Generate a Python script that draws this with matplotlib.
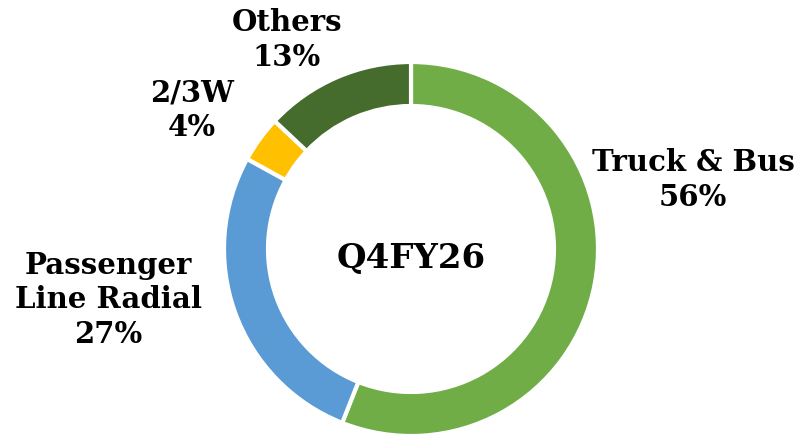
import matplotlib
matplotlib.use("Agg")
import matplotlib.pyplot as plt

categories = ["Truck & Bus", "Passenger\nLine Radial", "2/3W", "Others"]
shares = [56, 27, 4, 13]
colors = ["#70AD47", "#5B9BD5", "#FFC000", "#456B2D"]
center_label = "Q4FY26"

# label positions in pixel coordinates (x, y from top)
label_pos = [(693, 180), (108, 300), (192, 110), (287, 40)]

W, H = 805, 435
fig = plt.figure(figsize=(W / 100, H / 100), dpi=100)
ax = fig.add_axes([0, 0, 1, 1])

cx, cy, R = 411, H - 250, 187
ax.pie(shares, colors=colors, startangle=90, counterclock=False,
       radius=R, center=(cx, cy),
       wedgeprops=dict(width=44, edgecolor="white", linewidth=3))
ax.set_xlim(0, W)
ax.set_ylim(0, H)
ax.set_aspect("equal")
ax.axis("off")

font = dict(family="DejaVu Serif", fontweight="heavy", fontsize=21, color="black",
            ha="center", va="center", linespacing=1.25)
for cat, val, (px, py) in zip(categories, shares, label_pos):
    ax.text(px, H - py, f"{cat}\n{val}%", **font)

ax.text(cx, H - 258, center_label, family="DejaVu Serif", fontweight="heavy",
        fontsize=24.5, ha="center", va="center", color="black")

fig.savefig("out.png", dpi=100)
